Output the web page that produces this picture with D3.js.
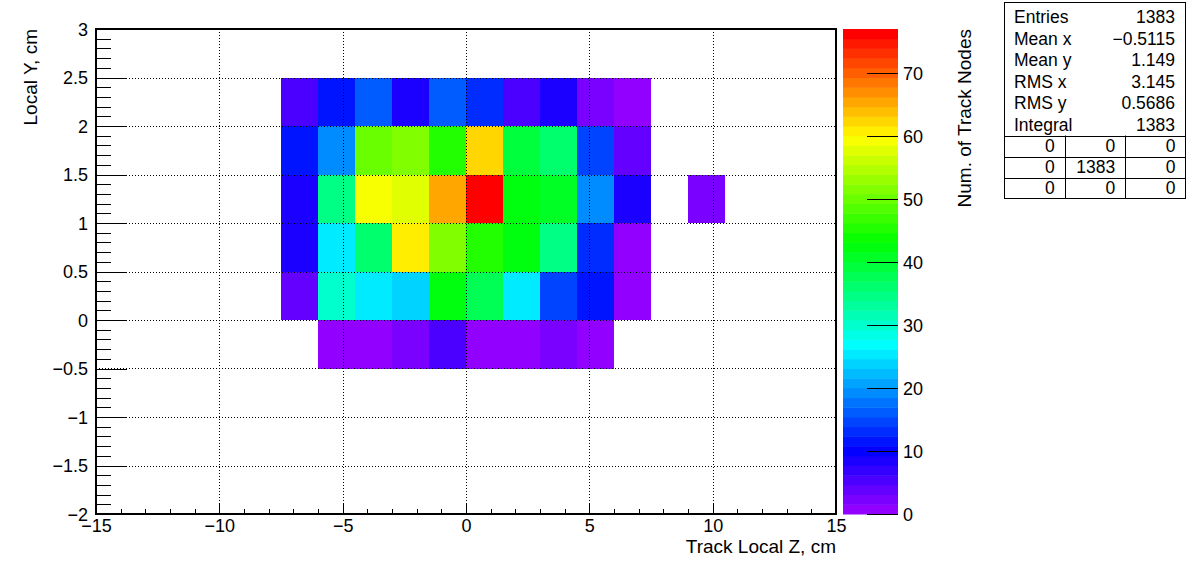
<!DOCTYPE html>
<html>
<head>
<meta charset="utf-8">
<script src="https://cdn.jsdelivr.net/npm/d3@7"></script>
<style>
	body { margin: 0; background: #fff; }
	text { font-family: "Liberation Sans", Arial, sans-serif; fill: #000; }
</style>
</head>
<body>
<script>
// bin edges (cm)
const xEdges = [-7.5, -6, -4.5, -3, -1.5, 0, 1.5, 3, 4.5, 6, 7.5, 9, 10.5];
const yLowEdges = [2, 1.5, 1, 0.5, 0, -0.5];
const yBinWidth = 0.5;

// counts per row, one value per x bin (0 = empty)
const countsRow2p0 = [5, 11, 16, 8, 16, 13, 5, 8, 2, 1, 0, 0];
const countsRow1p5 = [11, 19, 50, 52, 45, 62, 39, 36, 15, 4, 0, 0];
const countsRow1p0 = [8, 35, 59, 58, 66, 77, 42, 41, 19, 8, 0, 2];
const countsRow0p5 = [8, 25, 36, 61, 52, 45, 42, 35, 13, 1, 0, 0];
const countsRow0p0 = [4, 30, 25, 24, 42, 38, 25, 15, 11, 1, 0, 0];
const countsRowM0p5 = [0, 1, 1, 2, 5, 1, 1, 2, 1, 0, 0, 0];
const countRows = [countsRow2p0, countsRow1p5, countsRow1p0, countsRow0p5, countsRow0p0, countsRowM0p5];

const zTicks = [0, 10, 20, 30, 40, 50, 60, 70];
const statsLabels = ['Entries', 'Mean x', 'Mean y', 'RMS x', 'RMS y', 'Integral'];
const statsValues = ['1383', '\u22120.5115', '1.149', '3.145', '0.5686', '1383'];
const statsTable = [['0', '0', '0'], ['0', '1383', '0'], ['0', '0', '0']];

const width = 1196, height = 572;
const frame = { left: 96, right: 836, top: 29, bottom: 514 };
const labelSize = '18px',
	titleSize = '19px',
	statsSize = '17.5px';
const nColors = 50;

let zMax = d3.max(countRows.flat());

let svg = d3.select('body').append('svg')
	.attr('width', width)
	.attr('height', height);

let x = d3.scaleLinear().domain([-15, 15]).range([frame.left, frame.right]);
let y = d3.scaleLinear().domain([-2, 3]).range([frame.bottom, frame.top]);
let z = d3.scaleLinear().domain([0, zMax]).range([frame.bottom, frame.top]);

// ROOT "pretty" rainbow palette: 50 colours, hue 280 -> 0
function paletteColor(k) {
	let hue = 280 - (k + 1) * (280 / nColors);
	return d3.hsl(hue, 1, 0.5).formatHex();
}
function colorFor(v) {
	let k = Math.floor(0.01 + v / zMax * nColors);
	if (k > nColors - 1) k = nColors - 1;
	return paletteColor(k);
}

// cells
let cells = [];
countRows.forEach((row, r) => {
	row.forEach((v, c) => {
		if (v > 0) cells.push({ x0: xEdges[c], x1: xEdges[c + 1], y0: yLowEdges[r], y1: yLowEdges[r] + yBinWidth, v: v });
	});
});

svg.append('g').selectAll('rect')
	.data(cells)
	.enter().append('rect')
	.attr('x', d => x(d.x0))
	.attr('y', d => y(d.y1))
	.attr('width', d => x(d.x1) - x(d.x0))
	.attr('height', d => y(d.y0) - y(d.y1))
	.attr('fill', d => colorFor(d.v))
	.attr('shape-rendering', 'crispEdges');

// dotted grid
let grid = svg.append('g')
	.attr('stroke', '#000')
	.attr('stroke-width', 1)
	.attr('stroke-dasharray', '1,2')
	.attr('shape-rendering', 'crispEdges');
grid.selectAll('line.gx')
	.data(x.ticks(6).filter(t => t > -15 && t < 15))
	.enter().append('line')
	.attr('x1', d => Math.round(x(d)) + 0.5).attr('x2', d => Math.round(x(d)) + 0.5)
	.attr('y1', frame.top).attr('y2', frame.bottom);
grid.selectAll('line.gy')
	.data(d3.range(-1.5, 3, 0.5))
	.enter().append('line')
	.attr('y1', d => Math.round(y(d)) + 0.5).attr('y2', d => Math.round(y(d)) + 0.5)
	.attr('x1', frame.left).attr('x2', frame.right);

let fmt = d3.format('~g');

// x axis
let xMinor = svg.append('g')
	.attr('transform', 'translate(0,' + frame.bottom + ')')
	.call(d3.axisBottom(x).tickValues(d3.range(-15, 15.01, 1)).tickSize(-5).tickFormat(''));
let xMajor = svg.append('g')
	.attr('transform', 'translate(0,' + frame.bottom + ')')
	.call(d3.axisBottom(x).tickValues(d3.range(-15, 15.01, 5)).tickSize(-11).tickPadding(5).tickFormat(fmt));

// y axis
let yMinor = svg.append('g')
	.attr('transform', 'translate(' + frame.left + ',0)')
	.call(d3.axisLeft(y).tickValues(d3.range(-2, 3.001, 0.1)).tickSize(-15).tickFormat(''));
let yMajor = svg.append('g')
	.attr('transform', 'translate(' + frame.left + ',0)')
	.call(d3.axisLeft(y).tickValues(d3.range(-2, 3.001, 0.5)).tickSize(-31).tickPadding(8).tickFormat(fmt));

[xMinor, xMajor, yMinor, yMajor].forEach(g => {
	g.select('.domain').remove();
	g.selectAll('line').attr('stroke', '#000').attr('shape-rendering', 'crispEdges');
	g.selectAll('text').attr('font-size', labelSize).style('font-family', null);
});
xMajor.selectAll('text').attr('dy', '0.71em');
yMajor.selectAll('text').attr('dy', '0.36em');

// frame
svg.append('rect')
	.attr('x', frame.left).attr('y', frame.top)
	.attr('width', frame.right - frame.left).attr('height', frame.bottom - frame.top)
	.attr('fill', 'none').attr('stroke', '#000').attr('stroke-width', 2);

// axis titles
svg.append('text')
	.attr('x', frame.right).attr('y', 553)
	.attr('text-anchor', 'end').attr('font-size', titleSize)
	.text('Track Local Z, cm');
svg.append('text')
	.attr('transform', 'translate(37,' + frame.top + ') rotate(-90)')
	.attr('text-anchor', 'end').attr('font-size', titleSize)
	.text('Local Y, cm');

// palette
let palX0 = 843, palX1 = 898;
svg.append('g').selectAll('rect')
	.data(d3.range(nColors))
	.enter().append('rect')
	.attr('x', palX0)
	.attr('width', palX1 - palX0)
	.attr('y', k => z((k + 1) * zMax / nColors))
	.attr('height', k => z(k * zMax / nColors) - z((k + 1) * zMax / nColors) + 0.5)
	.attr('fill', k => paletteColor(k));

let zAxis = svg.append('g')
	.attr('transform', 'translate(' + palX1 + ',0)')
	.call(d3.axisRight(z).tickValues(zTicks).tickSize(-31).tickPadding(5).tickFormat(fmt));
zAxis.select('.domain').remove();
zAxis.selectAll('line').attr('stroke', '#000').attr('shape-rendering', 'crispEdges');
zAxis.selectAll('text').attr('font-size', labelSize).attr('dy', '0.36em').style('font-family', null);

svg.append('text')
	.attr('transform', 'translate(971,' + frame.top + ') rotate(-90)')
	.attr('text-anchor', 'end').attr('font-size', titleSize)
	.text('Num. of Track Nodes');

// stats box
let box = { x: 1004.5, y: 2.5, w: 181, h: 196 };
let stats = svg.append('g');
stats.append('rect')
	.attr('x', box.x).attr('y', box.y).attr('width', box.w).attr('height', box.h)
	.attr('fill', '#fff').attr('stroke', '#000');
let rowH = 21.5;
statsLabels.forEach((lab, i) => {
	stats.append('text').attr('x', 1014).attr('y', 23 + i * rowH)
		.attr('font-size', statsSize).text(lab);
	stats.append('text').attr('x', 1175).attr('y', 23 + i * rowH)
		.attr('text-anchor', 'end').attr('font-size', statsSize).text(statsValues[i]);
});
let tableTop = 135.5, cellH = 21, cellW = 60.33;
stats.selectAll('line.h')
	.data(d3.range(3))
	.enter().append('line')
	.attr('x1', box.x).attr('x2', box.x + box.w)
	.attr('y1', i => Math.round(tableTop + i * cellH) + 0.5).attr('y2', i => Math.round(tableTop + i * cellH) + 0.5)
	.attr('stroke', '#000');
stats.selectAll('line.v')
	.data([1, 2])
	.enter().append('line')
	.attr('x1', i => Math.round(box.x + i * cellW) + 0.5).attr('x2', i => Math.round(box.x + i * cellW) + 0.5)
	.attr('y1', tableTop).attr('y2', box.y + box.h)
	.attr('stroke', '#000');
statsTable.forEach((row, r) => {
	row.forEach((val, c) => {
		stats.append('text')
			.attr('x', box.x + (c + 1) * cellW - 10)
			.attr('y', tableTop + r * cellH + 16)
			.attr('text-anchor', 'end').attr('font-size', statsSize)
			.text(val);
	});
});
</script>
</body>
</html>
